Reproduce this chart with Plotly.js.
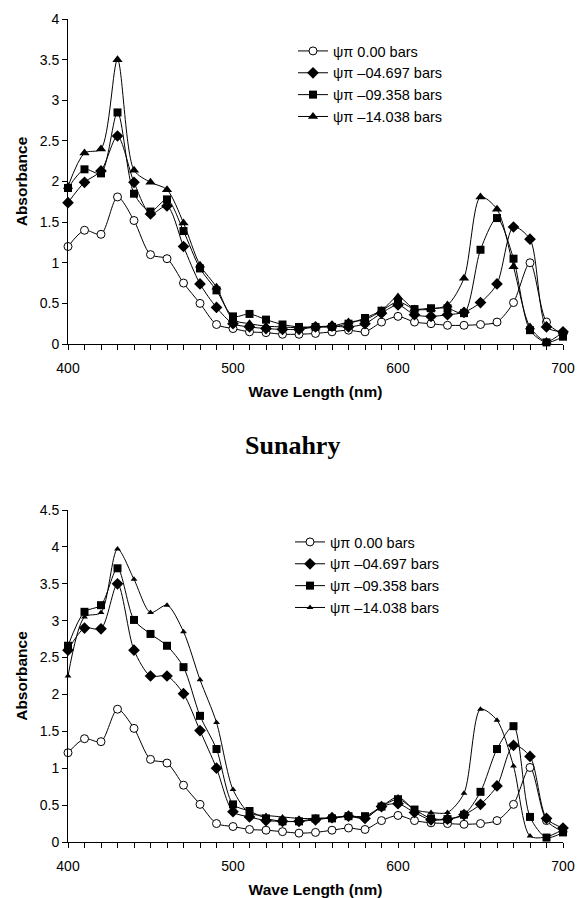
<!DOCTYPE html>
<html>
<head>
<meta charset="utf-8">
<script src="https://cdn.plot.ly/plotly-3.0.1.min.js"></script>
<style>html,body{margin:0;padding:0;background:#fff;}#chart{width:579px;height:898px;}</style>
</head>
<body>
<div id="chart"></div>
<script>
const wavelength = [400,410,420,430,440,450,460,470,480,490,500,510,520,530,540,550,560,570,580,590,600,610,620,630,640,650,660,670,680,690,700];
const seriesNames = ["ψπ 0.00 bars","ψπ –04.697 bars","ψπ –09.358 bars","ψπ –14.038 bars"];

// Top panel
const top_0000 = [1.20,1.40,1.35,1.81,1.52,1.10,1.05,0.75,0.50,0.24,0.19,0.15,0.14,0.12,0.12,0.13,0.15,0.17,0.15,0.27,0.34,0.27,0.25,0.23,0.23,0.24,0.27,0.51,1.00,0.27,0.12];
const top_4697 = [1.74,1.99,2.13,2.56,1.99,1.60,1.70,1.20,0.74,0.45,0.25,0.21,0.19,0.18,0.18,0.21,0.22,0.21,0.25,0.38,0.48,0.36,0.34,0.36,0.39,0.51,0.74,1.44,1.29,0.21,0.15];
const top_9358 = [1.92,2.15,2.10,2.85,1.85,1.63,1.78,1.39,0.93,0.66,0.34,0.37,0.30,0.24,0.21,0.21,0.21,0.25,0.32,0.41,0.52,0.43,0.44,0.44,0.38,1.16,1.55,1.05,0.17,0.02,0.09];
const top_14038 = [1.94,2.35,2.40,3.50,2.14,1.99,1.90,1.49,0.97,0.70,0.30,0.25,0.22,0.21,0.20,0.21,0.22,0.27,0.30,0.41,0.58,0.43,0.43,0.48,0.81,1.81,1.66,0.95,0.21,0.03,0.15];

// Bottom panel (Sunahry)
const bot_0000 = [1.21,1.40,1.36,1.80,1.54,1.12,1.07,0.77,0.51,0.25,0.21,0.17,0.16,0.14,0.12,0.13,0.16,0.19,0.17,0.29,0.36,0.29,0.26,0.25,0.24,0.25,0.29,0.51,1.01,0.29,0.14];
const bot_4697 = [2.60,2.90,2.89,3.50,2.60,2.25,2.25,2.01,1.51,1.00,0.41,0.34,0.29,0.28,0.28,0.30,0.33,0.35,0.32,0.48,0.52,0.40,0.30,0.31,0.37,0.51,0.76,1.31,1.16,0.32,0.19];
const bot_9358 = [2.66,3.12,3.21,3.71,3.01,2.82,2.66,2.37,1.71,1.26,0.51,0.42,0.32,0.28,0.28,0.32,0.32,0.35,0.35,0.48,0.58,0.44,0.32,0.31,0.37,0.68,1.26,1.57,0.34,0.06,0.13];
const bot_14038 = [2.25,3.05,3.11,3.97,3.56,3.11,3.21,2.85,2.20,1.62,0.71,0.39,0.36,0.34,0.32,0.32,0.33,0.35,0.33,0.48,0.61,0.44,0.40,0.40,0.66,1.80,1.65,1.03,0.08,0.07,0.17];

const topTitle = "Sunahry";
const xTitle = "Wave Length (nm)";
const yTitle = "Absorbance";

const FONT = "Liberation Sans, Arial, sans-serif";
const openCircle = {symbol:"circle", size:8, color:"#fff", line:{color:"#000", width:1}};
const markerStyles = [
  openCircle,
  {symbol:"diamond", size:9, color:"#000"},
  {symbol:"square", size:8, color:"#000"},
  {symbol:"triangle-up", size:9, color:"#000"}
];
const markerStylesBot = [
  openCircle,
  {symbol:"diamond", size:9, color:"#000"},
  {symbol:"square", size:8, color:"#000"},
  {symbol:"triangle-up", size:6, color:"#000"}
];

function mk(y, i, xa, ya, leg, styles) {
  return {
    x: wavelength, y: y, name: seriesNames[i], type: "scatter", mode: "lines+markers",
    xaxis: xa, yaxis: ya, legend: leg,
    line: {color:"#000", width:1, shape:"spline", smoothing:0.8},
    marker: styles[i],
    cliponaxis: false
  };
}

const data = [
  mk(top_0000,0,"x","y","legend",markerStyles),
  mk(top_4697,1,"x","y","legend",markerStyles),
  mk(top_9358,2,"x","y","legend",markerStyles),
  mk(top_14038,3,"x","y","legend",markerStyles),
  mk(bot_0000,0,"x2","y2","legend2",markerStylesBot),
  mk(bot_4697,1,"x2","y2","legend2",markerStylesBot),
  mk(bot_9358,2,"x2","y2","legend2",markerStylesBot),
  mk(bot_14038,3,"x2","y2","legend2",markerStylesBot)
];

const W = 579, H = 898;
const xdom = [68/W, 563/W];
function xax(anchor) {
  return {
    domain: xdom, anchor: anchor, range:[400,700], dtick:100, tick0:400,
    showgrid:false, zeroline:false, showline:true, linecolor:"#000", linewidth:1,
    ticks:"outside", ticklen:5, tickcolor:"#000", tickwidth:1,
    minor:{dtick:10, ticks:"outside", ticklen:5, tickcolor:"#000", tickwidth:1, showgrid:false},
    tickfont:{family:FONT, size:14, color:"#000"}, ticklabelstandoff:6,
    title:{text:xTitle, font:{family:FONT, size:15.5, color:"#000", weight:"bold"}, standoff:11},
    fixedrange:true
  };
}
function yax(anchor, dom, maxv) {
  return {
    domain: dom, anchor: anchor, range:[0,maxv], dtick:0.5,
    showgrid:false, zeroline:false, showline:true, linecolor:"#000", linewidth:1,
    ticks:"outside", ticklen:5, tickcolor:"#000", tickwidth:1,
    tickfont:{family:FONT, size:14, color:"#000"},
    title:{text:yTitle, font:{family:FONT, size:15.5, color:"#000", weight:"bold"}, standoff:8},
    fixedrange:true
  };
}

const legendBase = {
  font:{family:FONT, size:14.5, color:"#000"}, bgcolor:"rgba(0,0,0,0)", borderwidth:0,
  xanchor:"left", yanchor:"top", tracegroupgap:0, itemclick:false
};

const layout = {
  width: W, height: H, margin:{l:0,r:0,t:0,b:0},
  paper_bgcolor:"#fff", plot_bgcolor:"#fff",
  showlegend:true,
  xaxis: xax("y"),
  yaxis: yax("x", [(H-344)/H, (H-19)/H], 4),
  xaxis2: xax("y2"),
  yaxis2: yax("x2", [(H-842)/H, (H-510)/H], 4.5),
  legend: Object.assign({}, legendBase, {x: 293/W, y: 1 - 35/H}),
  legend2: Object.assign({}, legendBase, {x: 290/W, y: 1 - 526/H}),
  annotations: [{
    text: topTitle, xref:"paper", yref:"paper", x: 292/W, y: 1 - 445/H,
    xanchor:"center", yanchor:"middle", showarrow:false,
    font:{family:"Liberation Serif, Times New Roman, serif", size:26, color:"#000", weight:"bold"}
  }]
};

Plotly.newPlot("chart", data, layout, {staticPlot:true, displayModeBar:false});
</script>
</body>
</html>
